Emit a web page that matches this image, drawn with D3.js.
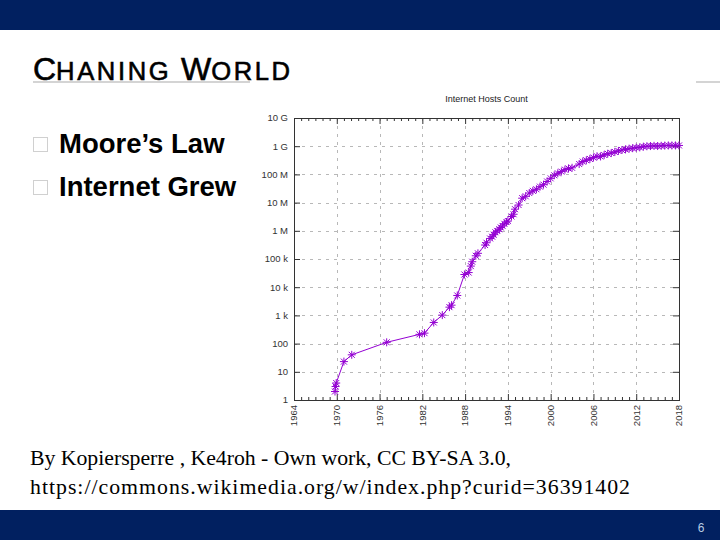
<!DOCTYPE html>
<html>
<head>
<meta charset="utf-8">
<script src="https://cdn.jsdelivr.net/npm/d3@7"></script>
<style>
  html, body { margin: 0; padding: 0; background: #fff; }
  svg { display: block; }
</style>
</head>
<body>
<svg id="slide" width="720" height="540"></svg>
<script>
const years = [1969.75, 1969.83, 1969.92, 1971.0, 1972.1, 1977.0, 1981.6, 1982.3, 1983.6, 1984.8,
  1985.8, 1986.1, 1986.9, 1987.9, 1988.5, 1988.8, 1989.0, 1989.5, 1989.8, 1990.8,
  1991.0, 1991.5, 1991.8, 1992.0, 1992.25, 1992.5, 1992.8, 1993.0, 1993.25, 1993.5,
  1993.8, 1994.0, 1994.5, 1994.8, 1995.0, 1995.5, 1996.0, 1996.5, 1997.0, 1997.5,
  1998.0, 1998.5, 1999.0, 1999.5, 2000.0, 2000.5, 2001.0, 2001.5, 2002.0, 2002.5,
  2003.0, 2004.0, 2004.5, 2005.0, 2005.5, 2006.0, 2006.5, 2007.0, 2007.5, 2008.0,
  2008.5, 2009.0, 2009.5, 2010.0, 2010.5, 2011.0, 2011.5, 2012.0, 2012.5, 2013.0,
  2013.5, 2014.0, 2014.5, 2015.0, 2015.5, 2016.0, 2016.5, 2017.0, 2017.5, 2018.0];
const hosts = [2, 3, 4, 23, 40, 111, 213, 235, 562, 1024,
  1961, 2308, 5089, 28174, 33000, 56000, 80000, 130000, 159000, 313000,
  376000, 535000, 617000, 727000, 890000, 992000, 1136000, 1313000, 1486000, 1776000,
  2056000, 2217000, 3212000, 3864000, 5846000, 8200000, 14352000, 16729000, 21819000, 26053000,
  29670000, 36739000, 43230000, 56218000, 72398092, 93047785, 109574429, 125888197, 147344723, 162128493,
  171638297, 233101481, 285139107, 317646084, 353284187, 394991609, 439286364, 433193199, 489774269, 541677360,
  570937778, 625226456, 681064561, 732740444, 768913036, 818374269, 849869781, 888239420, 908585739, 963518598,
  996230757, 1010251829, 1028544414, 1012706608, 1033836245, 1048766623, 1062660523, 1062660523, 1062660523, 1062660523];

const xTickYears = [1964, 1970, 1976, 1982, 1988, 1994, 2000, 2006, 2012, 2018];
const yTickValues = [1, 10, 100, 1e3, 1e4, 1e5, 1e6, 1e7, 1e8, 1e9, 1e10];
const yTickLabels = ["1", "10", "100", "1 k", "10 k", "100 k", "1 M", "10 M", "100 M", "1 G", "10 G"];
const chartTitle = "Internet Hosts Count";

const slideTitleParts = [["C", "big"], ["HANING ", "small"], ["W", "big"], ["ORLD", "small"]];
const bullets = ["Moore’s Law", "Internet Grew"];
const creditLines = ["By Kopiersperre , Ke4roh - Own work, CC BY-SA 3.0,",
  "https://commons.wikimedia.org/w/index.php?curid=36391402"];
const pageNumber = "6";

// ---- Slide ----
const svg = d3.select("#slide");
const navy = "#012060";
svg.append("rect").attr("x", 0).attr("y", 0).attr("width", 720).attr("height", 30).attr("fill", navy);
svg.append("rect").attr("x", 0).attr("y", 510).attr("width", 720).attr("height", 30).attr("fill", navy);
svg.append("text").attr("x", 701).attr("y", 532).attr("text-anchor", "middle")
  .attr("font-family", "Liberation Sans, Arial, sans-serif").attr("font-size", 12)
  .attr("fill", "#b8cce4").text(pageNumber);

// title underline (partly hidden behind chart image)
svg.append("line").attr("x1", 33).attr("x2", 720).attr("y1", 82).attr("y2", 82)
  .attr("stroke", "#d4d4d4").attr("stroke-width", 2);

bullets.forEach((b, i) => {
  const by = 153 + i * 43;
  svg.append("rect").attr("x", 33.5).attr("y", by - 15.5).attr("width", 14).attr("height", 14)
    .attr("fill", "none").attr("stroke", "#d0d0d0").attr("stroke-width", 1);
  svg.append("text").attr("x", 59).attr("y", by)
    .attr("font-family", "Liberation Sans, Arial, sans-serif").attr("font-size", 27.5)
    .attr("font-weight", "bold").attr("fill", "#000").text(b);
});

const creditWidths = [481, 600];
creditLines.forEach((c, i) => {
  svg.append("text").attr("x", 30).attr("y", 465 + i * 29)
    .attr("font-family", "Liberation Serif, 'Times New Roman', serif").attr("font-size", 21.8)
    .attr("textLength", creditWidths[i]).attr("lengthAdjust", "spacing")
    .attr("fill", "#000").text(c);
});

// ---- Chart ----
const chart = svg.append("g");
// white backdrop of the embedded chart image
chart.append("rect").attr("x", 250).attr("y", 76).attr("width", 446).attr("height", 356).attr("fill", "#fff");

const L = 294, R = 679, T = 118, B = 400;
const x = d3.scaleLinear().domain([1964, 2018]).range([L, R]);
const y = d3.scaleLog().domain([1, 1e10]).range([B, T]);

const font = "Liberation Sans, Arial, sans-serif";
chart.append("text").attr("x", (L + R) / 2).attr("y", 102).attr("text-anchor", "middle")
  .attr("font-family", font).attr("font-size", 9).attr("fill", "#222").text(chartTitle);

// grid
const grid = chart.append("g").attr("stroke", "#b8b8b8").attr("stroke-width", 1).attr("stroke-dasharray", "3,5");
grid.selectAll("line.h").data(yTickValues.slice(1, -1)).join("line")
  .attr("x1", L).attr("x2", R).attr("y1", d => Math.round(y(d)) + 0.5).attr("y2", d => Math.round(y(d)) + 0.5);
grid.selectAll("line.v").data(xTickYears.slice(1, -1)).join("line")
  .attr("y1", T).attr("y2", B).attr("x1", d => Math.round(x(d)) + 0.5).attr("x2", d => Math.round(x(d)) + 0.5);

// axes via d3 axis generators (ticks pointing inward, mirrored)
const allYears = d3.range(1964, 2019);
function styleAxis(g) {
  g.select(".domain").remove();
  g.selectAll(".tick line").attr("stroke", "#333");
}
const minorYears = allYears.filter(v => !xTickYears.includes(v));
const xMinorB = d3.axisBottom(x).tickValues(minorYears).tickSize(-3).tickFormat("");
const xMajorB = d3.axisBottom(x).tickValues(xTickYears).tickSize(-6).tickFormat("");
const xMinorT = d3.axisTop(x).tickValues(minorYears).tickSize(-3).tickFormat("");
const xMajorT = d3.axisTop(x).tickValues(xTickYears).tickSize(-6).tickFormat("");
chart.append("g").attr("transform", `translate(0,${B})`).call(xMinorB).call(styleAxis);
chart.append("g").attr("transform", `translate(0,${B})`).call(xMajorB).call(styleAxis);
chart.append("g").attr("transform", `translate(0,${T})`).call(xMinorT).call(styleAxis);
chart.append("g").attr("transform", `translate(0,${T})`).call(xMajorT).call(styleAxis);
const yL = d3.axisLeft(y).tickValues(yTickValues).tickSize(-6).tickFormat("");
const yR = d3.axisRight(y).tickValues(yTickValues).tickSize(-6).tickFormat("");
chart.append("g").attr("transform", `translate(${L},0)`).call(yL).call(styleAxis);
chart.append("g").attr("transform", `translate(${R},0)`).call(yR).call(styleAxis);

// tick labels
chart.append("g").selectAll("text").data(yTickValues).join("text")
  .attr("x", 288).attr("y", d => y(d)).attr("dy", "0.35em").attr("text-anchor", "end")
  .attr("font-family", font).attr("font-size", 9.5).attr("fill", "#333")
  .text((d, i) => yTickLabels[i]);
chart.append("g").selectAll("text").data(xTickYears).join("text")
  .attr("transform", d => `translate(${x(d)},${B + 5}) rotate(-90)`)
  .attr("dy", "0.35em").attr("text-anchor", "end")
  .attr("font-family", font).attr("font-size", 9.5).attr("fill", "#333")
  .text(d => d);

// border
chart.append("rect").attr("x", L + 0.5).attr("y", T + 0.5).attr("width", R - L).attr("height", B - T)
  .attr("fill", "none").attr("stroke", "#333").attr("stroke-width", 1);

// data line + asterisk points
const pts = years.map((yr, i) => [yr, hosts[i]]);
const purple = "#9400d3";
chart.append("path").datum(pts)
  .attr("d", d3.line().x(d => x(d[0])).y(d => y(d[1])))
  .attr("fill", "none").attr("stroke", purple).attr("stroke-width", 1);
const s = 4;
chart.append("g").selectAll("path").data(pts).join("path")
  .attr("transform", d => `translate(${x(d[0])},${y(d[1])})`)
  .attr("d", `M${-s},0H${s}M0,${-s}V${s}M${-s*0.75},${-s*0.75}L${s*0.75},${s*0.75}M${-s*0.75},${s*0.75}L${s*0.75},${-s*0.75}`)
  .attr("fill", "none").attr("stroke", purple).attr("stroke-width", 1);

// ---- Slide title (on top of everything) ----
const title = svg.append("text").attr("x", 33).attr("y", 80)
  .attr("font-family", "Liberation Sans, Arial, sans-serif").attr("fill", "#000")
  .attr("stroke", "#000").attr("stroke-width", 0.6);
slideTitleParts.forEach(([t, k]) => {
  title.append("tspan").attr("font-size", k === "big" ? 32 : 25.6)
    .attr("letter-spacing", k === "big" ? 0 : 2.6)
    .style("white-space", "pre").text(t);
});
</script>
</body>
</html>
